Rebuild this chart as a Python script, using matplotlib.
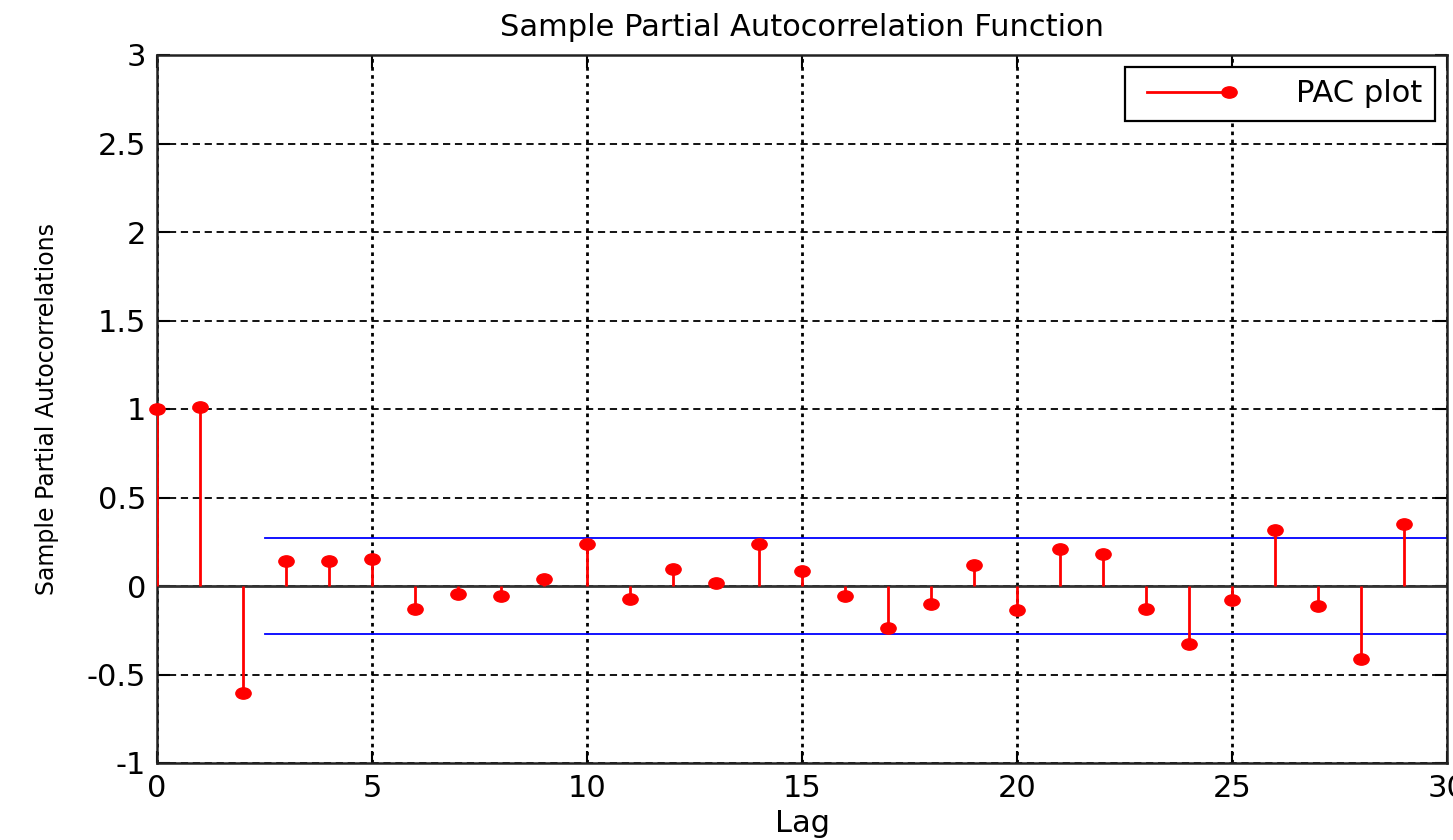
import numpy as np
import matplotlib
matplotlib.use("Agg")
import matplotlib.pyplot as plt
from matplotlib.path import Path
from matplotlib.transforms import Affine2D
from matplotlib.legend_handler import HandlerLine2D

# data
lags = list(range(30))
pacf = [1.0, 1.01, -0.605, 0.14, 0.14, 0.15, -0.13, -0.047, -0.056, 0.038,
        0.236, -0.072, 0.096, 0.015, 0.236, 0.085, -0.056, -0.24, -0.10, 0.119,
        -0.136, 0.21, 0.18, -0.13, -0.33, -0.08, 0.315, -0.115, -0.41, 0.35]
bound = 0.27
bound_start = 2.5
xticks = [0, 5, 10, 15, 20, 25, 30]
xticklabels = ["0", "5", "10", "15", "20", "25", "30"]
yticks = [-1, -0.5, 0, 0.5, 1, 1.5, 2, 2.5, 3]
yticklabels = ["-1", "-0.5", "0", "0.5", "1", "1.5", "2", "2.5", "3"]

plt.rcParams["font.family"] = ["DejaVu Sans"]
plt.rcParams["axes.unicode_minus"] = False

# slightly wide ellipse marker (the reference is stretched sideways)
circ = Path.unit_circle()
ell = Affine2D().scale(1.35, 1.0).transform_path(circ)

fig = plt.figure(figsize=(14.53, 8.40), dpi=100)
ax = fig.add_axes([157 / 1453, 77 / 840, 1290 / 1453, 708 / 840])

# grid: dashed horizontal, dotted vertical
for y in yticks:
    ax.axhline(y, color="black", lw=1.3, ls=(0, (4, 2.6)), zorder=1)
for x in xticks:
    ax.axvline(x, color="black", lw=2.0, ls=(0, (1.3, 1.6)), zorder=1)

ax.axhline(0, color="#333333", lw=2.0, zorder=2)

markerline, stemlines, baseline = ax.stem(lags, pacf, linefmt="r-", markerfmt="ro", basefmt=" ")
baseline.set_visible(False)
stemlines.set_linewidth(2.0)
stemlines.set_color("#ff0000")
stemlines.set_zorder(3)
markerline.set_marker(ell)
markerline.set_markersize(11)
markerline.set_color("#ff0000")
markerline.set_clip_on(False)
markerline.set_zorder(4)

ax.plot([bound_start, 30], [bound, bound], color="#0000ff", lw=1.3, zorder=2)
ax.plot([bound_start, 30], [-bound, -bound], color="#0000ff", lw=1.3, zorder=2)

ax.set_xlim(0, 30)
ax.set_ylim(-1, 3)
ax.set_xticks(xticks)
ax.set_xticklabels(xticklabels)
ax.set_yticks(yticks)
ax.set_yticklabels(yticklabels)
ax.tick_params(direction="in", length=9, width=1.5, top=True, right=True,
               labelsize=22, pad=8, colors="black")
for sp in ax.spines.values():
    sp.set_linewidth(1.8)
    sp.set_color("#222222")

ax.set_title("Sample Partial Autocorrelation Function", fontsize=22, pad=14)
ax.set_xlabel("Lag", fontsize=22, labelpad=4)
ax.set_ylabel("Sample Partial Autocorrelations", fontsize=17, labelpad=20)


class EndMarker(HandlerLine2D):
    def create_artists(self, legend, orig_handle, xdescent, ydescent, width, height, fontsize, trans):
        arts = super().create_artists(legend, orig_handle, xdescent, ydescent, width, height, fontsize, trans)
        for a in arts:
            a.set_markevery([1])
        return arts


handle = plt.Line2D([], [], color="#ff0000", lw=2.0, marker=ell, markersize=11)
leg = ax.legend([handle], ["PAC plot"], loc="upper right", fontsize=22, numpoints=2,
                handler_map={plt.Line2D: EndMarker(numpoints=2)},
                handlelength=3.3, handletextpad=1.9, borderpad=0.4,
                borderaxespad=0.4, fancybox=False, framealpha=1, edgecolor="black")
leg.get_frame().set_linewidth(1.6)

fig.savefig("out.png", dpi=100)
